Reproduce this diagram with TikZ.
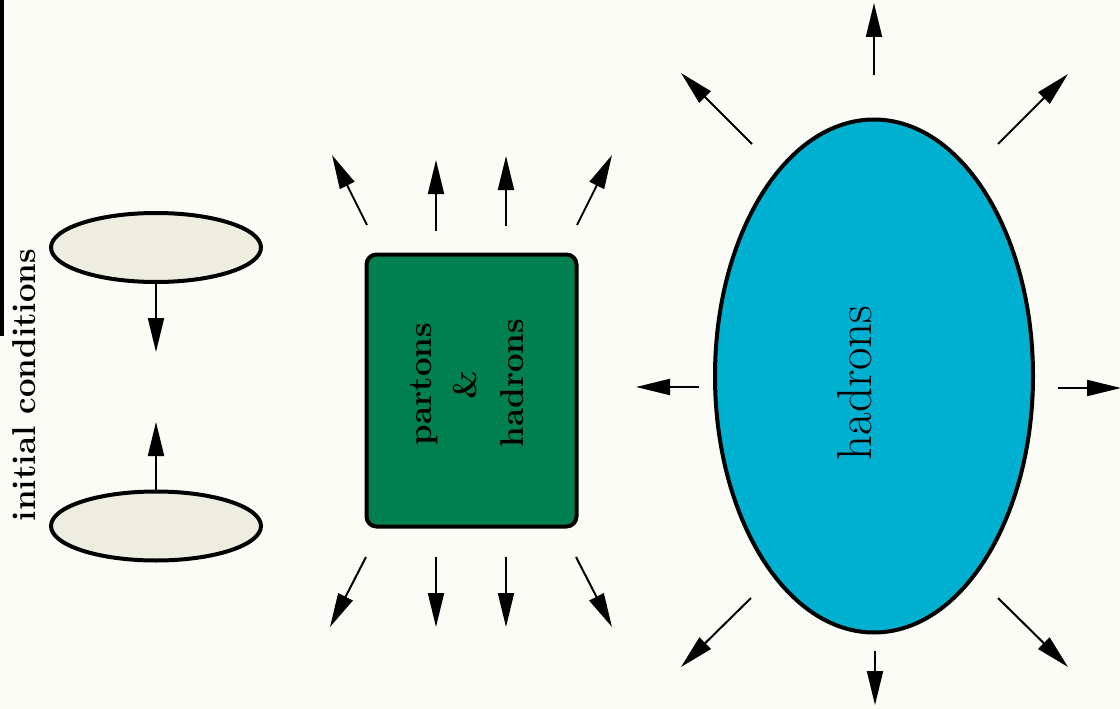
\documentclass[tikz,border=0pt]{standalone}
\usepackage{fontspec}
\usetikzlibrary{arrows.meta,shapes.geometric}
\definecolor{paper}{RGB}{252,252,246}
\definecolor{cream}{RGB}{238,238,224}
\definecolor{boxgreen}{RGB}{0,128,80}
\definecolor{hadcyan}{RGB}{0,176,208}
\tikzset{
  arr/.style={line width=2pt,-{Triangle[length=34pt,width=16pt]}},
  initell/.style={ellipse,draw=black,line width=4pt,fill=cream,minimum width=210pt,minimum height=69pt,inner sep=0pt},
  pbox/.style={rectangle,rounded corners=10pt,draw=black,line width=4pt,fill=boxgreen,minimum width=210pt,minimum height=272pt,inner sep=0pt},
  bigell/.style={ellipse,draw=black,line width=4pt,fill=hadcyan,minimum width=318pt,minimum height=513pt,inner sep=0pt},
  lab/.style={rotate=90,inner sep=0pt,text=black}
}
\begin{document}
\begin{tikzpicture}[x=1pt,y=-1pt]
\useasboundingbox (0,0) rectangle (1120,709);
\fill[paper] (0,0) rectangle (1120,709);
\fill[black] (0,0) rectangle (4,336);
% initial conditions
\node[lab,font=\fontsize{33}{36}\selectfont\bfseries] (ictext) at (24,385) {initial conditions};
\node[initell] (ictop) at (156,247.5) {};
\node[initell] (icbot) at (156,526) {};
\coordinate (ict) at (156,352);
\coordinate (icb) at (156,422);
\draw[arr] (ictop.south) -- (ict);
\draw[arr] (icbot.north) -- (icb);
% partons & hadrons box
\node[pbox] (box) at (471.5,390.5) {};
\node[lab,font=\fontsize{33}{36}\selectfont\bfseries] (partons) at (424,384) {partons};
\node[lab,font=\fontsize{33}{36}\selectfont\bfseries] (amp) at (465,385) {\&};
\node[lab,font=\fontsize{33}{36}\selectfont\bfseries] (hadr1) at (512,383) {hadrons};
\coordinate (b1s) at (367,225); \coordinate (b1e) at (332,155);
\coordinate (b2s) at (436,231); \coordinate (b2e) at (436,160);
\coordinate (b3s) at (506,226); \coordinate (b3e) at (506,156);
\coordinate (b4s) at (577,225); \coordinate (b4e) at (612,155);
\coordinate (b5s) at (366,557); \coordinate (b5e) at (330,627);
\coordinate (b6s) at (436,557); \coordinate (b6e) at (436,627);
\coordinate (b7s) at (506,557); \coordinate (b7e) at (506,627);
\coordinate (b8s) at (576,557); \coordinate (b8e) at (612,627);
\foreach \i in {1,...,8} {\draw[arr] (b\i s) -- (b\i e);}
% hadrons ellipse
\node[bigell] (had) at (874,376) {};
\node[lab,font=\fontsize{49}{54}\selectfont] (hadr2) at (855,383) {hadrons};
\coordinate (h1s) at (874,75);  \coordinate (h1e) at (874,3);
\coordinate (h2s) at (998,144); \coordinate (h2e) at (1068,74);
\coordinate (h3s) at (752,144); \coordinate (h3e) at (681,73);
\coordinate (h4s) at (699,387); \coordinate (h4e) at (636,387);
\coordinate (h5s) at (1058,388); \coordinate (h5e) at (1121,388);
\coordinate (h6s) at (751,598); \coordinate (h6e) at (681,667);
\coordinate (h7s) at (998,598); \coordinate (h7e) at (1068,667);
\coordinate (h8s) at (875,651); \coordinate (h8e) at (875,705);
\foreach \i in {1,...,8} {\draw[arr] (h\i s) -- (h\i e);}
\end{tikzpicture}
\end{document}
